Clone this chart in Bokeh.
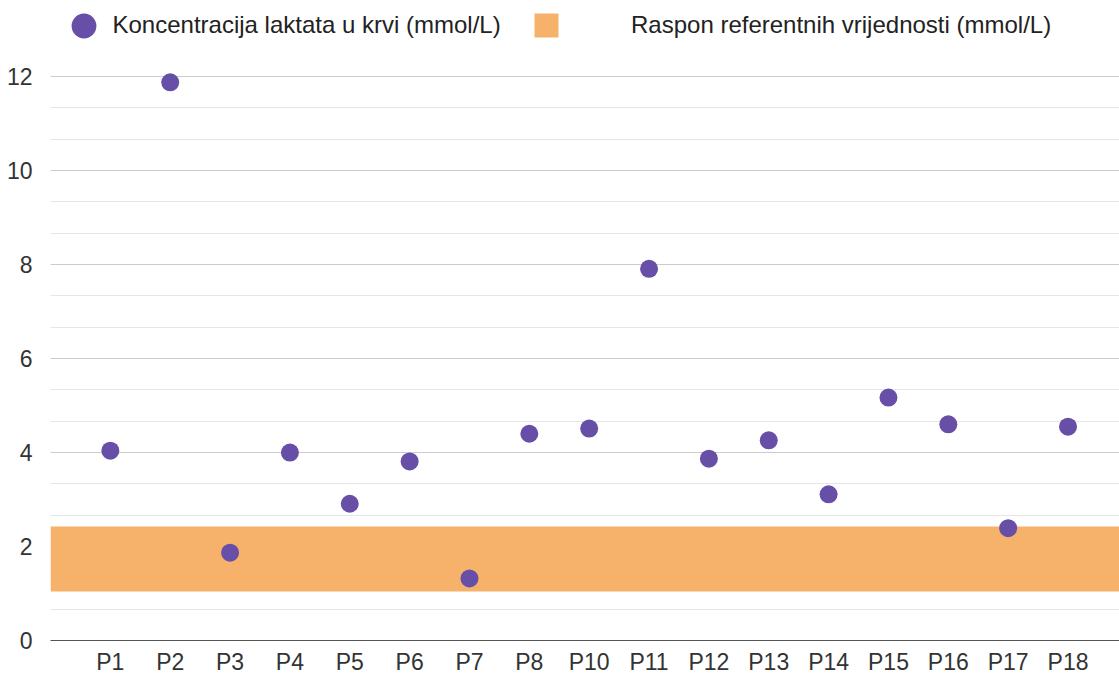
from bokeh.plotting import figure
from bokeh.models import Range1d, FixedTicker, Legend, LegendItem
from bokeh.embed import file_html
from bokeh.resources import INLINE

# ---- data ----
categories = ["P1", "P2", "P3", "P4", "P5", "P6", "P7", "P8", "P10", "P11",
              "P12", "P13", "P14", "P15", "P16", "P17", "P18"]
lactate = [4.04, 11.88, 1.87, 4.00, 2.91, 3.81, 1.32, 4.40, 4.51, 7.91,
           3.87, 4.26, 3.11, 5.17, 4.60, 2.39, 4.55]
ref_low = 1.05
ref_high = 2.43
y_ticks = [0, 2, 4, 6, 8, 10, 12]

series_label = "Koncentracija laktata u krvi (mmol/L)"
band_label = "Raspon referentnih vrijednosti (mmol/L)"

PURPLE = "#674ea7"
ORANGE = "#f6b26b"
FONT = "Liberation Sans"

xs = list(range(1, len(categories) + 1))

p = figure(width=1119, height=677,
           x_range=Range1d(0, 17.86), y_range=Range1d(0, 13.62),
           output_backend="svg", toolbar_location=None,
           min_border_left=50, min_border_right=0,
           min_border_top=0, min_border_bottom=37)
p.outline_line_color = None
p.background_fill_color = "white"

band = p.hstrip(y0=[ref_low], y1=[ref_high], fill_color=ORANGE,
                line_color=None)
dots = p.ellipse(x=xs, y=lactate, width=18, height=18,
                 width_units="screen", height_units="screen",
                 fill_color=PURPLE, line_color=None)

# axes
minor = [k * 2 / 3 for k in range(0, 19)]
p.yaxis.ticker = FixedTicker(ticks=y_ticks, minor_ticks=minor)
p.yaxis.axis_line_color = None
p.yaxis.major_tick_line_color = None
p.yaxis.minor_tick_line_color = None
p.yaxis.major_tick_out = 0
p.yaxis.major_label_standoff = 14
p.yaxis.major_label_text_font = FONT
p.yaxis.major_label_text_font_size = "23px"
p.yaxis.major_label_text_color = "#333333"

p.xaxis.ticker = FixedTicker(ticks=xs)
p.xaxis.major_label_overrides = {x: c for x, c in zip(xs, categories)}
p.xaxis.axis_line_color = "#555555"
p.xaxis.major_tick_line_color = None
p.xaxis.minor_tick_line_color = None
p.xaxis.major_tick_out = 0
p.xaxis.major_label_standoff = 8
p.xaxis.major_label_text_font = FONT
p.xaxis.major_label_text_font_size = "23px"
p.xaxis.major_label_text_color = "#333333"

p.xgrid.grid_line_color = None
p.ygrid.grid_line_color = "#cccccc"
p.ygrid.minor_grid_line_color = "#e6e6e6"

common = dict(orientation="horizontal", padding=0, margin=0, spacing=0,
              border_line_color=None, background_fill_alpha=0,
              label_text_font=FONT, label_text_font_size="24px",
              label_text_color="#222222")
leg1 = Legend(items=[LegendItem(label=series_label, renderers=[dots])],
              location=(17.5, 599.5), glyph_width=31, glyph_height=31,
              label_standoff=14, **common)
leg2 = Legend(items=[LegendItem(label=band_label, renderers=[band])],
              location=(481, 600.5), glyph_width=30, glyph_height=30,
              label_standoff=70, **common)
p.add_layout(leg1)
p.add_layout(leg2)

open("out.html", "w").write(file_html(p, INLINE))
